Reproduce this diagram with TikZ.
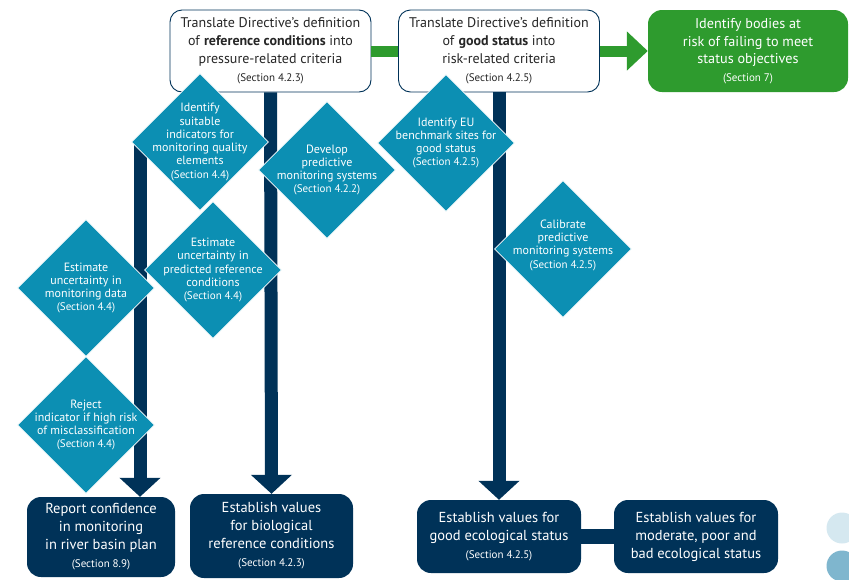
\documentclass[tikz,border=0pt]{standalone}
\usepackage{fontspec}
\setmainfont{PT Sans}
\usetikzlibrary{shapes.geometric,arrows.meta}

\definecolor{navy}{RGB}{0,50,88}
\definecolor{diateal}{RGB}{12,143,179}
\definecolor{flowgreen}{RGB}{46,155,46}
\definecolor{dotpale}{RGB}{213,232,240}
\definecolor{dotmid}{RGB}{127,182,206}

\newcommand{\sectxt}[1]{{\fontsize{11}{13}\selectfont (Section #1)}}

\tikzset{
  defbox/.style={draw=navy, line width=0.9pt, fill=white, rounded corners=12pt,
    align=center, minimum width=201pt, minimum height=82pt, inner sep=0pt,
    text=black!85, font=\fontsize{14}{18}\selectfont},
  goalbox/.style={fill=flowgreen, rounded corners=14pt, align=center,
    minimum width=200pt, minimum height=82pt, inner sep=0pt,
    text=white, font=\fontsize{14.2}{17.5}\selectfont},
  valbox/.style={fill=navy, rounded corners=14pt, align=center, inner sep=0pt,
    text=white, font=\fontsize{14.5}{18}\selectfont},
  task/.style={diamond, aspect=1, fill=diateal, draw=white, line width=0.6pt,
    minimum width=137pt, minimum height=137pt, inner sep=0pt},
  tasktext/.style={align=center, text=white, inner sep=0pt,
    font=\fontsize{12}{13.3}\selectfont},
  mainflow/.style={navy, line width=13pt, -{Triangle[width=40pt,length=19pt]}},
  link/.style={flowgreen, line width=11pt}
}

\begin{document}
\begin{tikzpicture}[x=1pt,y=-1pt]
  \useasboundingbox (0,0) rectangle (849,579);

  % definition boxes along the top
  \node[defbox] (refdef) at (270.5,51)
    {Translate Directive’s definition\\of \textbf{reference conditions} into\\pressure-related criteria\\\sectxt{4.2.3}};
  \node[defbox] (gooddef) at (499,51)
    {Translate Directive’s definition\\of \textbf{good status} into\\risk-related criteria\\\sectxt{4.2.5}};
  \node[goalbox] (risk) at (748,51)
    {Identify bodies at\\risk of failing to meet\\status objectives\\\sectxt{7}};

  % result boxes along the bottom
  \node[valbox, minimum width=148pt, minimum height=80pt] (report) at (101,537)
    {Report confidence\\in monitoring\\in river basin plan\\\sectxt{8.9}};
  \node[valbox, minimum width=163pt, minimum height=84pt] (bioref) at (271.5,536)
    {Establish values\\for biological\\reference conditions\\\sectxt{4.2.3}};
  \node[valbox, minimum width=164pt, minimum height=73pt] (goodval) at (499,536.5)
    {Establish values for\\good ecological status\\\sectxt{4.2.5}};
  \node[valbox, minimum width=164pt, minimum height=73pt] (modval) at (696,536.5)
    {Establish values for\\moderate, poor and\\bad ecological status};

  % connectors
  \draw[link] (refdef.east) -- (gooddef.west);
  \draw[link, -{Triangle[width=38pt,length=21pt]}] (gooddef.east) -- (risk.west);
  \draw[navy, line width=15pt] (goodval.east) -- (modval.west);

  \coordinate (leftbar) at (140,142);
  \draw[mainflow] (leftbar) -- (leftbar |- report.north);
  \draw[mainflow] (refdef.south) -- (bioref.north);
  \draw[mainflow] (gooddef.south) -- (goodval.north);

  % tasks
  \node[task, label={[tasktext]center:Identify\\suitable\\indicators for\\monitoring quality\\elements\\\sectxt{4.4}}] (indic) at (200,142) {};
  \node[task, label={[tasktext]center:Develop\\predictive\\monitoring systems\\\sectxt{4.2.2}}] (devel) at (327,170) {};
  \node[task, label={[tasktext]center:Identify EU\\benchmark sites for\\good status\\\sectxt{4.2.5}}] (bench) at (446,143) {};
  \node[task, label={[tasktext, yshift=4pt]center:Calibrate\\predictive\\monitoring systems\\\sectxt{4.2.5}}] (calib) at (563,249) {};
  \node[task, label={[tasktext]center:Estimate\\uncertainty in\\monitoring data\\\sectxt{4.4}}] (uncdata) at (86,288) {};
  \node[task, label={[tasktext]center:Estimate\\uncertainty in\\predicted reference\\conditions\\\sectxt{4.4}}] (uncpred) at (213,270) {};
  \node[task, label={[tasktext]center:Reject\\indicator if high risk\\of misclassification\\\sectxt{4.4}}] (reject) at (86,425) {};

  % page marks
  \fill[dotpale] (842,528) circle (15.5pt);
  \fill[dotmid] (842,566) circle (15.5pt);
\end{tikzpicture}
\end{document}
